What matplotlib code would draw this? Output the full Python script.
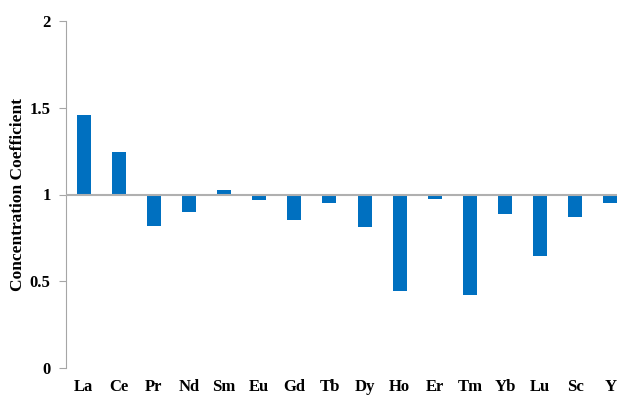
import numpy as np
import matplotlib.pyplot as plt

plt.rcParams['font.family'] = ['Liberation Serif', 'DejaVu Serif']

# --- data ---
elements = ['La', 'Ce', 'Pr', 'Nd', 'Sm', 'Eu', 'Gd', 'Tb',
            'Dy', 'Ho', 'Er', 'Tm', 'Yb', 'Lu', 'Sc', 'Y']
coeff = [1.458, 1.245, 0.818, 0.90, 1.026, 0.966, 0.852, 0.950,
         0.812, 0.443, 0.973, 0.421, 0.890, 0.645, 0.870, 0.952]
baseline = 1.0

x = np.arange(len(elements))
heights = np.array(coeff) - baseline

fig = plt.figure(figsize=(6.17, 3.96), dpi=100)
# plot area runs past the right edge, as in the original
ax = fig.add_axes([66 / 617, 1 - 368 / 396, 562 / 617, 347 / 396])

ax.bar(x, heights, bottom=baseline, width=0.4, color='#0070C0', zorder=2)
ax.axhline(baseline, color='#b0b0b0', linewidth=1.5, zorder=3)

ax.set_xlim(-0.5, len(elements) - 0.5)
ax.set_ylim(0, 2)
ax.set_yticks([0, 0.5, 1, 1.5, 2])
ax.set_yticklabels(['0', '0.5', '1', '1.5', '2'], fontweight='bold', fontsize=12)
ax.set_xticks(x)
ax.set_xticklabels(elements, fontweight='bold', fontsize=12)

for side in ['top', 'right', 'bottom']:
    ax.spines[side].set_visible(False)
ax.spines['left'].set_color('#a6a6a6')
ax.tick_params(axis='y', length=5, color='#a6a6a6', pad=6)
ax.tick_params(axis='x', length=0, pad=8)

ax.set_ylabel('Concentration Coefficient', fontweight='bold', fontsize=12.5, labelpad=3)

fig.savefig('out.png', dpi=100)
